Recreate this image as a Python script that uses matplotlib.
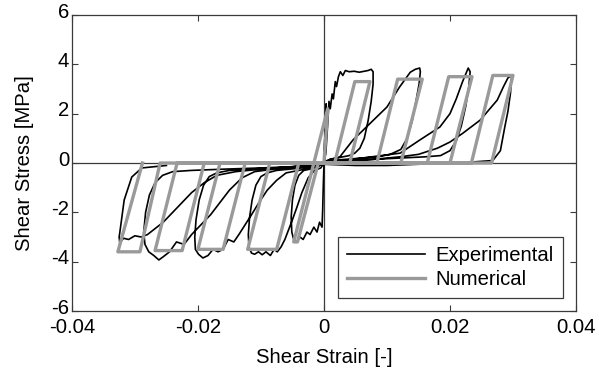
import matplotlib
matplotlib.use('Agg')
import matplotlib.pyplot as plt
import matplotlib.transforms as mtransforms
import numpy as np

# Experimental loops (strain in 1e-3, stress in MPa), one list per half cycle
exp_c0p_x = [0, 0.15, 0.3, 0.35, 0.2, 0.05]
exp_c0p_y = [0, 1.1, 2.1, 2.4, 1.5, 0.3]
exp_c0n_x = [0, -0.1, -0.2, -0.3, -0.7, -1.1, -1.6, -2.2, -2.7, -3.3, -3.8, -4.3, -4.8, -5.1, -5.2, -5.0, -4.6, -4.0, -3.2, -2.2, -1.0, 0]
exp_c0n_y = [0, -0.9, -1.9, -2.6, -2.4, -2.8, -2.6, -2.9, -2.8, -3.1, -3.0, -3.2, -3.1, -2.8, -2.2, -1.5, -0.9, -0.5, -0.3, -0.25, -0.15, 0]
exp_c1p_x = [0, 0.3, 0.6, 0.8, 1.0, 1.3, 1.5, 1.8, 2.0, 2.3, 2.6, 3.0, 3.4, 4.0, 4.8, 5.6, 6.4, 7.0, 7.5, 7.8, 7.8, 7.5, 7.0, 6.4, 5.7, 4.9, 4.0, 3.0, 2.0, 1.0, 0]
exp_c1p_y = [0, 0.4, 1.6, 2.5, 2.2, 2.8, 2.6, 3.3, 3.1, 3.5, 3.7, 3.55, 3.75, 3.7, 3.72, 3.68, 3.72, 3.75, 3.8, 3.7, 3.2, 2.5, 1.7, 1.0, 0.6, 0.4, 0.3, 0.25, 0.2, 0.15, 0.05]
exp_c1n_x = [0, -0.5, -1.5, -2.5, -3.5, -4.3, -5.0, -5.6, -6.2, -6.8, -7.4, -7.9, -8.5, -9.2, -9.8, -10.4, -11.0, -11.5, -11.9, -12.0, -11.8, -11.4, -10.8, -10.0, -9.0, -7.5, -5.5, -3.5, -1.5, 0]
exp_c1n_y = [0, -0.2, -0.3, -0.6, -1.2, -1.8, -2.3, -2.7, -3.1, -3.4, -3.6, -3.5, -3.75, -3.6, -3.72, -3.6, -3.7, -3.65, -3.4, -2.9, -2.2, -1.5, -0.9, -0.55, -0.4, -0.3, -0.25, -0.2, -0.15, -0.05]
exp_c2p_x = [0, 1.0, 2.5, 4.6, 7.3, 10.0, 12.0, 13.7, 14.5, 15.2, 15.3, 15.1, 14.6, 14.0, 13.2, 12.2, 10.5, 8.5, 6.0, 3.5, 1.0, 0]
exp_c2p_y = [0, 0.15, 0.24, 0.93, 1.6, 2.27, 3.08, 3.68, 3.8, 3.85, 3.7, 3.2, 2.5, 1.7, 1.0, 0.55, 0.35, 0.25, 0.2, 0.15, 0.1, 0]
exp_c2n_x = [0, -2, -4, -6, -7.5, -9, -10.3, -11.5, -12.5, -13.5, -14.3, -15.2, -16.0, -16.8, -17.6, -18.4, -19.2, -19.9, -20.4, -20.5, -20.3, -19.8, -19.1, -18.2, -17.0, -15.0, -12.0, -8.0, -4.0, 0]
exp_c2n_y = [0, -0.2, -0.3, -0.4, -0.7, -1.1, -1.6, -2.1, -2.5, -2.9, -3.2, -3.1, -3.5, -3.6, -3.5, -3.75, -3.85, -3.7, -3.5, -3.0, -2.3, -1.5, -0.9, -0.55, -0.4, -0.3, -0.25, -0.2, -0.15, -0.05]
exp_c3p_x = [0, 3, 6, 9, 12.1, 15.2, 18.4, 20.0, 21.0, 22.0, 22.9, 23.2, 23.0, 22.5, 21.8, 21.0, 20.0, 18.5, 16, 12, 8, 4, 0]
exp_c3p_y = [0, 0.1, 0.2, 0.3, 0.4, 0.93, 1.46, 2.0, 2.6, 3.3, 3.85, 3.7, 3.1, 2.3, 1.5, 0.9, 0.5, 0.3, 0.25, 0.2, 0.15, 0.1, 0]
exp_c3n_x = [0, -4, -8, -11, -13, -15, -16.5, -18, -19.5, -21, -22.2, -23.4, -24.5, -25.5, -26.2, -27.0, -27.8, -28.4, -28.6, -28.3, -27.7, -26.8, -25.6, -24, -21, -16, -10, -5, 0]
exp_c3n_y = [0, -0.15, -0.25, -0.35, -0.6, -1.1, -1.6, -2.1, -2.5, -2.9, -3.3, -3.2, -3.6, -3.8, -3.93, -3.75, -3.6, -3.3, -2.8, -2.0, -1.3, -0.8, -0.5, -0.35, -0.3, -0.25, -0.2, -0.15, -0.05]
exp_c4p_x = [0, 4, 8, 12, 15, 18, 20, 22, 24.8, 27.5, 28.5, 29.2, 29.8, 29.6, 29.2, 28.7, 28.0, 26.8, 24, 20, 15, 10, 5, 0]
exp_c4p_y = [0, 0.1, 0.15, 0.25, 0.35, 0.6, 0.85, 1.2, 1.74, 2.55, 3.1, 3.45, 3.56, 2.83, 2.1, 1.46, 0.5, 0.1, 0.05, 0.0, -0.05, -0.1, -0.1, -0.05]
exp_c4n_x = [0, -5, -10, -14, -17, -19, -21, -22.5, -24, -25.5, -27, -28, -29, -30, -31, -31.8, -32.4, -32.5, -32.4, -31.7, -30.5, -28.9, -27.3, -25]
exp_c4n_y = [0, -0.15, -0.25, -0.35, -0.5, -0.8, -1.2, -1.6, -2.0, -2.4, -2.7, -2.9, -3.0, -2.95, -3.1, -3.05, -3.24, -3.0, -2.83, -1.5, -0.57, -0.2, -0.16, -0.1]

# Numerical model path (strain in 1e-3, stress in MPa)
num_x = [0, 0.6, -1.6, -4.8, -4.2, -0.9, 1.7, 4.9, 7.3, 4.1,
         -4.0, -7.5, -12.1, -8.6, 8.4, 11.7, 15.6, 12.2,
         -12.5, -16.0, -20.0, -16.5, 16.4, 19.8, 23.5, 20.0,
         -19.0, -22.5, -26.8, -23.3, 23.4, 26.8, 30.0, 26.6,
         -26.0, -29.2, -32.7, -28.8]
num_y = [0, 2.2, 0, -3.2, -3.2, 0, 0, 3.3, 3.3, 0,
         0, -3.5, -3.5, 0, 0, 3.4, 3.4, 0,
         0, -3.5, -3.5, 0, 0, 3.5, 3.5, 0,
         0, -3.55, -3.55, 0, 0, 3.55, 3.55, 0,
         0, -3.6, -3.6, 0]

x_ticks = [-0.04, -0.02, 0, 0.02, 0.04]
x_tick_labels = ['-0.04', '-0.02', '0', '0.02', '0.04']
y_ticks = [-6, -4, -2, 0, 2, 4, 6]

plt.rcParams['font.family'] = ['Liberation Sans', 'DejaVu Sans']
plt.rcParams['font.size'] = 14.6
plt.rcParams['axes.unicode_minus'] = False

fig = plt.figure(figsize=(5.99, 3.79), dpi=100)
ax = fig.add_axes([0.120, 0.1794, 0.8416, 0.781])

frame_col = '#3a3a3a'
ax.axhline(0, color=frame_col, lw=0.9, zorder=1)
ax.axvline(0, color=frame_col, lw=0.9, zorder=1)

exp_x = (exp_c0p_x + exp_c0n_x + exp_c1p_x + exp_c1n_x + exp_c2p_x + exp_c2n_x
         + exp_c3p_x + exp_c3n_x + exp_c4p_x + exp_c4n_x)
exp_y = (exp_c0p_y + exp_c0n_y + exp_c1p_y + exp_c1n_y + exp_c2p_y + exp_c2n_y
         + exp_c3p_y + exp_c3n_y + exp_c4p_y + exp_c4n_y)

ax.plot(np.array(exp_x) * 1e-3, exp_y, color='black', lw=1.2, label='Experimental', zorder=2)
ax.plot(np.array(num_x) * 1e-3, num_y, color='#9a9a9a', lw=2.4, label='Numerical', zorder=3)

ax.set_xlim(-0.04, 0.04)
ax.set_ylim(-6, 6)
ax.set_xticks(x_ticks)
ax.set_xticklabels(x_tick_labels)
ax.set_yticks(y_ticks)
ax.tick_params(direction='in', length=4, width=0.8, color=frame_col,
               top=True, right=True)
ax.tick_params(axis='x', pad=5)
ax.tick_params(axis='y', pad=2)
for s in ax.spines.values():
    s.set_color(frame_col)
    s.set_linewidth(0.9)

# nudge y tick labels up a little, like the reference
shift = mtransforms.ScaledTranslation(0, 5 / 100, fig.dpi_scale_trans)
for lab in ax.get_yticklabels():
    lab.set_transform(lab.get_transform() + shift)

ax.set_xlabel('Shear Strain [-]', labelpad=8)
ax.set_ylabel('Shear Stress [MPa]', labelpad=12)

leg = ax.legend(loc='lower right', fancybox=False, framealpha=1,
                edgecolor=frame_col, borderaxespad=0.65, handlelength=3.85,
                handletextpad=0.5, borderpad=0.45, labelspacing=0.25)
leg.get_frame().set_linewidth(0.9)

fig.savefig('out.png', dpi=100)
